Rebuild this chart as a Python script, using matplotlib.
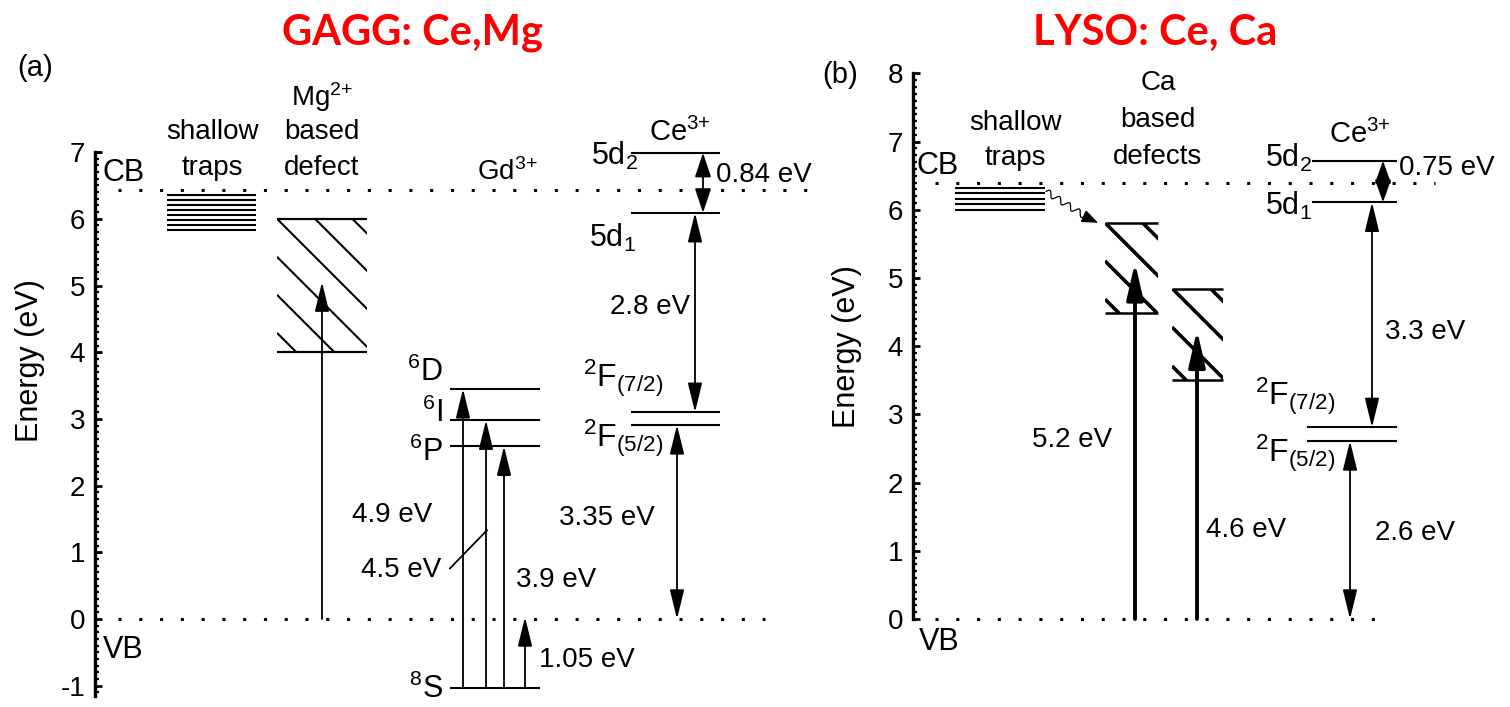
import numpy as np
import matplotlib.pyplot as plt
from matplotlib.patches import Rectangle
from matplotlib.ticker import FixedLocator

plt.rcParams['font.family'] = ['Liberation Sans', 'DejaVu Sans']
plt.rcParams['mathtext.fontset'] = 'custom'
plt.rcParams['mathtext.rm'] = 'Liberation Sans'
plt.rcParams['mathtext.it'] = 'Liberation Sans'
plt.rcParams['axes.unicode_minus'] = False

W, H = 1510, 707

# ---------------- (a) GAGG: Ce,Mg  (energies in eV) ----------------
gagg_cb = 6.43
gagg_vb = 0.0
gagg_traps = [6.35, 6.28, 6.20, 6.13, 6.05, 5.98, 5.90, 5.83]
gagg_mg_band = [4.0, 6.0]
gagg_mg_arrow = 5.05
gd_names = ['$^8$S', '$^6$P', '$^6$I', '$^6$D']
gd_levels = [-1.03, 2.59, 2.98, 3.45]
gd_label_e = [-1.06, 2.50, 3.09, 3.70]
gd_arrow_labels = ['4.9 eV', '4.5 eV', '3.9 eV', '1.05 eV']
gagg_ce_5d = [6.09, 6.99]
gagg_ce_4f = [2.91, 3.10]
gagg_ce_gaps = ['0.84 eV', '2.8 eV', '3.35 eV']

# ---------------- (b) LYSO: Ce, Ca ----------------
lyso_cb = 6.39
lyso_vb = 0.0
lyso_traps = [6.32, 6.24, 6.16, 6.08, 6.00]
ca_bands = [[4.49, 5.81], [3.50, 4.84]]
ca_arrows = [5.23, 4.24]
ca_arrow_labels = ['5.2 eV', '4.6 eV']
lyso_ce_5d = [6.11, 6.72]
lyso_ce_4f = [2.61, 2.81]
lyso_ce_gaps = ['0.75 eV', '3.3 eV', '2.6 eV']

FS = 20
LW = 1.5


def setup_axis(ax, x0, x1, e_of_top, e_of_bottom, bounds, ymax_tick):
    ax.set_xlim(x0, x1)
    ax.set_ylim(e_of_bottom, e_of_top)
    for s in ['top', 'right', 'bottom']:
        ax.spines[s].set_visible(False)
    ax.spines['left'].set_linewidth(2.4)
    ax.spines['left'].set_bounds(*bounds)
    ax.set_xticks([])
    ax.set_yticks(np.arange(np.ceil(bounds[0]), ymax_tick + 1))
    minors = np.round(np.arange(np.ceil(bounds[0] * 10), bounds[1] * 10 + 1) / 10, 2)
    ax.yaxis.set_minor_locator(FixedLocator(minors))
    ax.tick_params(axis='y', which='major', direction='in', length=5, width=2,
                   labelsize=20, pad=7)
    ax.tick_params(axis='y', which='minor', direction='in', length=3, width=1.6)
    ax.set_ylabel('Energy (eV)', fontsize=22)
    ax.patch.set_alpha(0)


def dotted(ax, x0, x1, e):
    ax.plot([x0, x1], [e, e], color='black', lw=2.2, linestyle=(0, (1, 5.8)),
            dash_capstyle='butt', solid_capstyle='butt')


def level(ax, x0, x1, e, lw=LW):
    ax.plot([x0, x1], [e, e], color='black', lw=lw, solid_capstyle='butt')


def arrow(ax, x, e0, e1, both=False, lw=1.3, hl=0.9, hw=0.22):
    style = '<|-|>' if both else '-|>'
    ax.annotate('', xy=(x, e1), xytext=(x, e0),
                arrowprops=dict(arrowstyle=f'{style},head_length={hl},head_width={hw}',
                                color='black', lw=lw, shrinkA=0, shrinkB=0,
                                mutation_scale=20))


def hatch_box(ax, x0, x1, e_lo, e_hi, starts, px_per_ev, lw, hlw):
    level(ax, x0, x1, e_hi, hlw)
    level(ax, x0, x1, e_lo, hlw)
    clip = Rectangle((x0, e_lo), x1 - x0, e_hi - e_lo, transform=ax.transData,
                     fill=False, visible=False)
    ax.add_patch(clip)
    span = (x1 - x0) * 1.5
    for e in starts:
        ln, = ax.plot([x0, x0 + span], [e, e - span / px_per_ev], color='black',
                      lw=lw, solid_capstyle='butt')
        ln.set_clip_path(clip)


fig = plt.figure(figsize=(W / 100, H / 100), dpi=100)

# ================= panel (a) =================
kA = 66.7
axA = fig.add_axes([95 / W, 0, (860 - 95) / W, 1])
setup_axis(axA, 95, 860, 619 / kA, (619 - H) / kA, (-1.15, 7), 7)
axA.yaxis.set_label_coords(-0.066, 0.49)

dotted(axA, 118, 815, gagg_cb)
dotted(axA, 118, 765, gagg_vb)
axA.text(103, 6.69, 'CB', fontsize=22, ha='left', va='center')
axA.text(103, -0.46, 'VB', fontsize=22, ha='left', va='center')

for e in gagg_traps:
    level(axA, 167, 256, e)
axA.text(212, 7.30, 'shallow', fontsize=FS, ha='center', va='center')
axA.text(212, 6.76, 'traps', fontsize=FS, ha='center', va='center')

hatch_box(axA, 277, 367, gagg_mg_band[0], gagg_mg_band[1],
          [7.13, 6.57, 6.0, 5.43, 4.86, 4.29], kA, 1.5, 1.6)
arrow(axA, 322, gagg_vb, gagg_mg_arrow)
axA.text(322, 7.83, 'Mg$^{2{+}}$', fontsize=FS, ha='center', va='center')
axA.text(322, 7.30, 'based', fontsize=FS, ha='center', va='center')
axA.text(322, 6.76, 'defect', fontsize=FS, ha='center', va='center')

# Gd3+ levels
axA.text(507, 6.70, 'Gd$^{3{+}}$', fontsize=FS, ha='center', va='center')
for name, e, le in zip(gd_names, gd_levels, gd_label_e):
    level(axA, 450, 540, e)
    axA.text(443, le, name, fontsize=FS + 2, ha='right', va='center')
gd_x = [463, 486, 504]
for x, top in zip(gd_x, gd_levels[:0:-1]):
    arrow(axA, x, gd_levels[0], top)
arrow(axA, 525, gd_levels[0], gagg_vb + 0.03)
axA.text(392, 1.56, gd_arrow_labels[0], fontsize=FS, ha='center', va='center')
axA.text(401, 0.73, gd_arrow_labels[1], fontsize=FS, ha='center', va='center')
axA.plot([450, 487], [0.76, 1.33], color='black', lw=1.3)
axA.text(556, 0.58, gd_arrow_labels[2], fontsize=FS, ha='center', va='center')
axA.text(587, -0.61, gd_arrow_labels[3], fontsize=FS, ha='center', va='center')

# Ce3+ levels
for e in gagg_ce_5d + gagg_ce_4f:
    level(axA, 631, 720, e)
axA.text(680, 7.29, 'Ce$^{3{+}}$', fontsize=FS + 1, ha='center', va='center')
axA.text(591, 6.81, '5d$_2$', fontsize=FS + 2, ha='left', va='baseline')
axA.text(589, 5.58, '5d$_1$', fontsize=FS + 2, ha='left', va='baseline')
axA.text(583, 3.48, '$^2$F$_{(7/2)}$', fontsize=FS + 3, ha='left', va='baseline')
axA.text(583, 2.58, '$^2$F$_{(5/2)}$', fontsize=FS + 3, ha='left', va='baseline')
arrow(axA, 703, gagg_ce_5d[0], gagg_ce_5d[1], both=True, hl=0.75, hw=0.25)
arrow(axA, 695, gagg_ce_4f[1], gagg_ce_5d[0], both=True)
arrow(axA, 677, gagg_vb, gagg_ce_4f[0], both=True)
axA.text(716, 6.66, gagg_ce_gaps[0], fontsize=FS, ha='left', va='center')
axA.text(650, 4.68, gagg_ce_gaps[1], fontsize=FS, ha='center', va='center')
axA.text(607, 1.51, gagg_ce_gaps[2], fontsize=FS, ha='center', va='center')

# ================= panel (b) =================
kB = 68.2
axB = fig.add_axes([913 / W, 0, (W - 913) / W, 1])
setup_axis(axB, 913, W, 619 / kB, (619 - H) / kB, (0, 8), 8)
axB.yaxis.set_label_coords(-0.085, 0.51)

dotted(axB, 935, 1435, lyso_cb)
dotted(axB, 935, 1392, lyso_vb)
axB.text(916, 6.64, 'CB', fontsize=22, ha='left', va='center')
axB.text(919, -0.33, 'VB', fontsize=22, ha='left', va='center')

for e in lyso_traps:
    level(axB, 955, 1045, e)
axB.text(1015, 7.27, 'shallow', fontsize=FS, ha='center', va='center')
axB.text(1015, 6.76, 'traps', fontsize=FS, ha='center', va='center')

# wavy relaxation from traps into the Ca defect
p0 = np.array([1046, 6.27 * kB])
p1 = np.array([1090, 5.86 * kB])
t = np.linspace(0, 1, 200)
d = p1 - p0
nrm = np.array([-d[1], d[0]]) / np.hypot(*d)
wave = 3.0 * np.sin(2 * np.pi * 4.5 * t)
pts = p0[None, :] + t[:, None] * d[None, :] + wave[:, None] * nrm[None, :]
axB.plot(pts[:, 0], pts[:, 1] / kB, color='black', lw=0.9)
axB.annotate('', xy=(1098, 5.81), xytext=(1089, 5.87),
             arrowprops=dict(arrowstyle='-|>,head_length=0.5,head_width=0.2',
                             color='black', lw=0.9, shrinkA=0, shrinkB=0,
                             mutation_scale=20))

hatch_box(axB, 1105, 1158, ca_bands[0][0], ca_bands[0][1],
          [6.36, 5.81, 5.25, 4.69], kB, 2.6, 1.8)
hatch_box(axB, 1172, 1223, ca_bands[1][0], ca_bands[1][1],
          [5.41, 4.85, 4.28, 3.71], kB, 2.6, 1.8)
for x, top in zip([1135, 1197], ca_arrows):
    arrow(axB, x, lyso_vb, top, lw=2.8, hl=1.1, hw=0.25)
axB.text(1158, 7.86, 'Ca', fontsize=FS, ha='center', va='center')
axB.text(1158, 7.32, 'based', fontsize=FS, ha='center', va='center')
axB.text(1158, 6.77, 'defects', fontsize=FS, ha='center', va='center')
axB.text(1072, 2.62, ca_arrow_labels[0], fontsize=FS, ha='center', va='center')
axB.text(1246, 1.30, ca_arrow_labels[1], fontsize=FS, ha='center', va='center')

for e in lyso_ce_5d:
    level(axB, 1312, 1397, e)
for e in lyso_ce_4f:
    level(axB, 1307, 1397, e)
axB.text(1360, 7.10, 'Ce$^{3{+}}$', fontsize=FS + 1, ha='center', va='center')
axB.text(1265, 6.63, '5d$_2$', fontsize=FS + 2, ha='left', va='baseline')
axB.text(1265, 5.92, '5d$_1$', fontsize=FS + 2, ha='left', va='baseline')
axB.text(1255, 3.14, '$^2$F$_{(7/2)}$', fontsize=FS + 3, ha='left', va='baseline')
axB.text(1255, 2.30, '$^2$F$_{(5/2)}$', fontsize=FS + 3, ha='left', va='baseline')
arrow(axB, 1383, lyso_ce_5d[0], lyso_ce_5d[1], both=True, hl=0.7, hw=0.25)
arrow(axB, 1372, lyso_ce_4f[1], lyso_ce_5d[0], both=True)
arrow(axB, 1350, lyso_vb, lyso_ce_4f[0], both=True)
axB.text(1399, 6.61, lyso_ce_gaps[0], fontsize=FS, ha='left', va='center')
axB.text(1425, 4.21, lyso_ce_gaps[1], fontsize=FS, ha='center', va='center')
axB.text(1415, 1.26, lyso_ce_gaps[2], fontsize=FS, ha='center', va='center')

# titles and panel letters
fig.text(412 / W, 1 - 33 / H, 'GAGG: Ce,Mg', color='#ff0000', fontsize=30,
         fontweight='bold', family=['Lato', 'DejaVu Sans'], ha='center', va='center')
fig.text(1155 / W, 1 - 33 / H, 'LYSO: Ce, Ca', color='#ff0000', fontsize=30,
         fontweight='bold', family=['Lato', 'DejaVu Sans'], ha='center', va='center')
fig.text(35 / W, 1 - 68 / H, '(a)', fontsize=21, ha='center', va='center')
fig.text(840 / W, 1 - 75 / H, '(b)', fontsize=21, ha='center', va='center')

fig.savefig('out.png', dpi=100)
